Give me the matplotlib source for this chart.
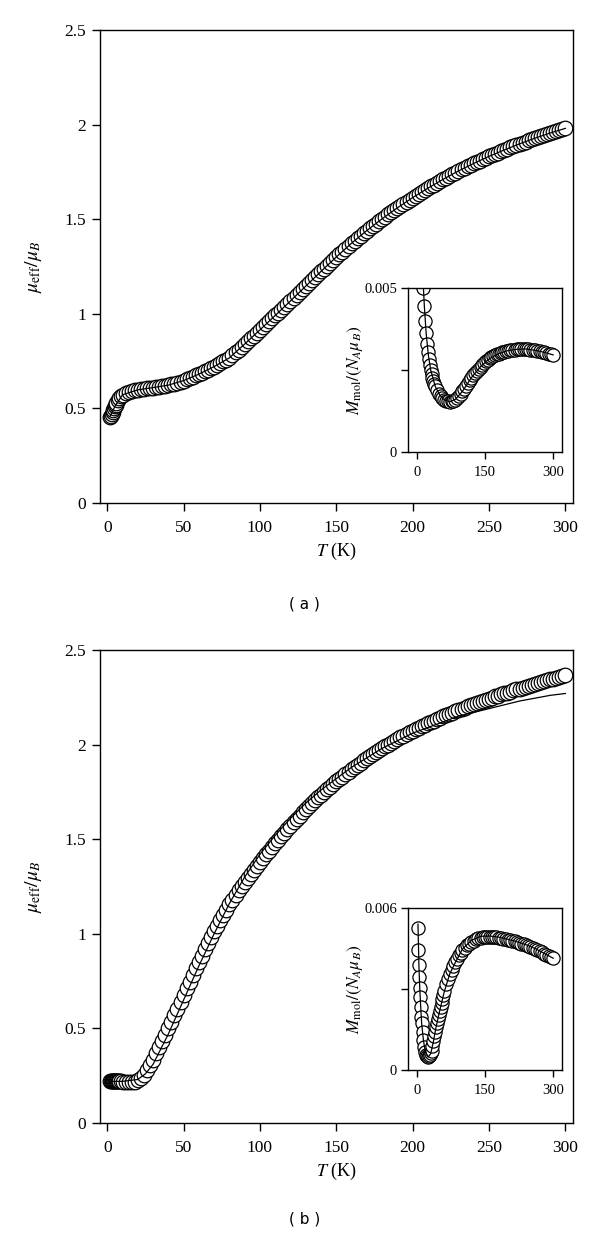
import matplotlib
matplotlib.use("Agg")
import matplotlib.pyplot as plt

plt.rcParams['font.family'] = ['Liberation Serif', 'DejaVu Serif']
plt.rcParams['mathtext.fontset'] = 'stix'

# ---- panel (a): mu_eff / mu_B vs T ----
T_a = [2, 2.5, 3, 3.5, 4, 4.5, 5, 5.5, 6, 7, 8, 9, 10,
       12, 14, 16, 18, 20, 22, 24, 26, 28, 30, 32, 34, 36, 38, 40, 42, 44, 46, 48, 50,
       52, 54, 56, 58, 60, 62, 64, 66, 68, 70, 72, 74, 76, 78, 80, 82, 84, 86, 88, 90,
       92, 94, 96, 98, 100, 102, 104, 106, 108, 110, 112, 114, 116, 118, 120, 122, 124, 126, 128, 130,
       132, 134, 136, 138, 140, 142, 144, 146, 148, 150, 152, 154, 156, 158, 160, 162, 164, 166, 168, 170,
       172, 174, 176, 178, 180, 182, 184, 186, 188, 190, 192, 194, 196, 198, 200, 202, 204, 206, 208, 210,
       212, 214, 216, 218, 220, 222, 224, 226, 228, 230, 232, 234, 236, 238, 240, 242, 244, 246, 248, 250,
       252, 254, 256, 258, 260, 262, 264, 266, 268, 270, 272, 274, 276, 278, 280, 282, 284, 286, 288, 290,
       292, 294, 296, 298, 300]
mu_a = [0.455, 0.462, 0.47, 0.48, 0.49, 0.50, 0.51, 0.52, 0.53, 0.545, 0.556, 0.565, 0.572,
        0.580, 0.586, 0.591, 0.595, 0.598, 0.601, 0.604, 0.606, 0.608, 0.610, 0.612, 0.614, 0.617, 0.620, 0.623, 0.627, 0.631, 0.636, 0.641, 0.647,
        0.653, 0.660, 0.667, 0.674, 0.681, 0.688, 0.696, 0.704, 0.712, 0.721, 0.730, 0.739, 0.748, 0.757, 0.767, 0.781, 0.796, 0.810, 0.825, 0.840,
        0.855, 0.870, 0.885, 0.900, 0.915, 0.930, 0.945, 0.961, 0.976, 0.991, 1.006, 1.022, 1.037, 1.053, 1.068, 1.084, 1.099, 1.115, 1.130, 1.146,
        1.162, 1.177, 1.193, 1.208, 1.224, 1.239, 1.254, 1.270, 1.285, 1.300, 1.315, 1.329, 1.344, 1.358, 1.373, 1.386, 1.400, 1.413, 1.427, 1.440,
        1.452, 1.465, 1.477, 1.490, 1.502, 1.514, 1.525, 1.537, 1.548, 1.560, 1.571, 1.582, 1.592, 1.603, 1.614, 1.624, 1.634, 1.644, 1.654, 1.664,
        1.673, 1.683, 1.692, 1.702, 1.711, 1.720, 1.729, 1.737, 1.746, 1.755, 1.763, 1.771, 1.779, 1.787, 1.795, 1.802, 1.810, 1.817, 1.825, 1.832,
        1.839, 1.846, 1.852, 1.859, 1.866, 1.872, 1.879, 1.885, 1.892, 1.898, 1.904, 1.910, 1.916, 1.922, 1.928, 1.933, 1.939, 1.944, 1.950, 1.955,
        1.960, 1.965, 1.970, 1.975, 1.980]
fitT_a = [2, 5, 10, 20, 30, 40, 50, 60, 70, 80, 90, 100, 110, 120, 130, 140, 150, 160, 170, 180,
          190, 200, 210, 220, 230, 240, 250, 260, 270, 280, 290, 300]
fit_a = [0.46, 0.51, 0.572, 0.598, 0.610, 0.623, 0.647, 0.681, 0.721, 0.767, 0.840, 0.915, 0.991, 1.068, 1.146, 1.224, 1.300, 1.373, 1.440, 1.502,
         1.560, 1.614, 1.664, 1.711, 1.755, 1.795, 1.832, 1.866, 1.898, 1.928, 1.955, 1.980]

# inset (a): M_mol/(N_A mu_B) vs T
Ti_a = [14, 16, 18, 20, 22, 24, 26, 28, 30, 32, 34, 36, 38, 40, 44, 48, 52, 56, 60, 64, 68, 72, 76, 80, 84, 88, 92, 96, 100,
        104, 108, 112, 116, 120, 124, 128, 132, 136, 140, 144, 148, 152, 156, 160, 164, 168, 172, 176, 180, 184, 188, 192, 196, 200,
        205, 210, 215, 220, 225, 230, 235, 240, 245, 250, 255, 260, 265, 270, 275, 280, 285, 290, 295, 300]
M_a = [0.00500, 0.00446, 0.00400, 0.00362, 0.00330, 0.00305, 0.00283, 0.00265, 0.00250, 0.00237, 0.00226, 0.00216, 0.00207, 0.00200,
       0.00188, 0.00178, 0.00170, 0.00164, 0.00159, 0.00156, 0.00154, 0.00153, 0.00154, 0.00156, 0.00160, 0.00165, 0.00170, 0.00177, 0.00185,
       0.00193, 0.00201, 0.00210, 0.00219, 0.00227, 0.00234, 0.00241, 0.00248, 0.00254, 0.00260, 0.00266, 0.00271, 0.00276, 0.00280, 0.00285,
       0.00289, 0.00292, 0.00295, 0.00298, 0.00300, 0.00302, 0.00304, 0.00306, 0.00308, 0.00309, 0.00310, 0.00311, 0.00312, 0.00313, 0.00313,
       0.00314, 0.00314, 0.00314, 0.00313, 0.00312, 0.00311, 0.00310, 0.00309, 0.00308, 0.00306, 0.00304, 0.00302, 0.00300, 0.00298, 0.00296]
fitTi_a = [12, 14, 16, 20, 25, 30, 40, 50, 60, 72, 85, 100, 120, 140, 160, 180, 200, 220, 240, 260, 280, 300]
fitM_a = [0.0056, 0.0050, 0.00446, 0.00362, 0.00294, 0.0025, 0.0020, 0.00174, 0.00159, 0.00153, 0.00161, 0.00185, 0.00227, 0.0026, 0.00285,
          0.0030, 0.00309, 0.00313, 0.00314, 0.0031, 0.00304, 0.00296]

# ---- panel (b) ----
T_b = [2, 2.5, 3, 3.5, 4, 4.5, 5, 5.5, 6, 6.5, 7, 7.5, 8, 9, 10,
       12, 14, 16, 18, 20, 22, 24, 26, 28, 30, 32, 34, 36, 38, 40, 42, 44, 46, 48, 50,
       52, 54, 56, 58, 60, 62, 64, 66, 68, 70, 72, 74, 76, 78, 80, 82, 84, 86, 88, 90,
       92, 94, 96, 98, 100, 102, 104, 106, 108, 110, 112, 114, 116, 118, 120, 122, 124, 126, 128, 130,
       132, 134, 136, 138, 140, 142, 144, 146, 148, 150, 152, 154, 156, 158, 160, 162, 164, 166, 168, 170,
       172, 174, 176, 178, 180, 182, 184, 186, 188, 190, 192, 194, 196, 198, 200, 202, 204, 206, 208, 210,
       212, 214, 216, 218, 220, 222, 224, 226, 228, 230, 232, 234, 236, 238, 240, 242, 244, 246, 248, 250,
       252, 254, 256, 258, 260, 262, 264, 266, 268, 270, 272, 274, 276, 278, 280, 282, 284, 286, 288, 290,
       292, 294, 296, 298, 300]
mu_b = [0.22, 0.22, 0.22, 0.221, 0.221, 0.222, 0.222, 0.222, 0.222, 0.222, 0.222, 0.221, 0.221, 0.22, 0.218,
        0.216, 0.215, 0.215, 0.218, 0.225, 0.238, 0.255, 0.278, 0.305, 0.335, 0.368, 0.400, 0.433, 0.467, 0.500, 0.535, 0.570, 0.605, 0.640, 0.676,
        0.711, 0.747, 0.782, 0.817, 0.851, 0.885, 0.918, 0.950, 0.982, 1.013, 1.043, 1.072, 1.101, 1.128, 1.155, 1.180, 1.205, 1.229, 1.252, 1.275,
        1.297, 1.318, 1.339, 1.360, 1.380, 1.400, 1.420, 1.440, 1.459, 1.478, 1.497, 1.516, 1.534, 1.553, 1.571, 1.589, 1.607, 1.624, 1.641, 1.658,
        1.674, 1.690, 1.705, 1.721, 1.736, 1.750, 1.764, 1.778, 1.791, 1.805, 1.818, 1.831, 1.844, 1.856, 1.869, 1.881, 1.893, 1.905, 1.916, 1.928,
        1.939, 1.949, 1.960, 1.970, 1.981, 1.991, 2.000, 2.010, 2.019, 2.029, 2.038, 2.047, 2.055, 2.064, 2.073, 2.081, 2.089, 2.096, 2.104, 2.112,
        2.119, 2.127, 2.134, 2.142, 2.149, 2.156, 2.163, 2.169, 2.176, 2.183, 2.189, 2.195, 2.202, 2.208, 2.214, 2.220, 2.226, 2.231, 2.237, 2.243,
        2.248, 2.254, 2.259, 2.265, 2.270, 2.275, 2.280, 2.286, 2.291, 2.296, 2.301, 2.306, 2.310, 2.315, 2.320, 2.325, 2.330, 2.334, 2.339, 2.344,
        2.349, 2.353, 2.358, 2.362, 2.367]
fitT_b = [2, 10, 20, 25, 30, 40, 50, 60, 70, 80, 90, 100, 110, 120, 130, 140, 150, 160, 170, 180,
          190, 200, 210, 220, 230, 240, 250, 260, 270, 280, 290, 300]
fit_b = [0.22, 0.22, 0.23, 0.26, 0.31, 0.47, 0.65, 0.83, 1.00, 1.16, 1.30, 1.42, 1.52, 1.61, 1.69, 1.76, 1.82, 1.88, 1.93, 1.98,
         2.02, 2.06, 2.09, 2.12, 2.15, 2.17, 2.19, 2.21, 2.23, 2.245, 2.26, 2.27]

Ti_b = [2, 3, 4, 5, 6, 7, 8, 9, 10, 12, 14, 16, 18, 20, 22, 24, 26, 28, 30, 32, 34, 36, 38, 40, 42, 44, 46, 48, 50,
        52, 54, 56, 58, 60, 64, 68, 72, 76, 80, 84, 88, 92, 96, 100, 105, 110, 115, 120, 125, 130, 135, 140, 145, 150,
        155, 160, 165, 170, 175, 180, 185, 190, 195, 200, 205, 210, 215, 220, 225, 230, 235, 240, 245, 250,
        255, 260, 265, 270, 275, 280, 285, 290, 295, 300]
M_b = [0.00526, 0.00445, 0.00390, 0.00346, 0.00303, 0.00272, 0.00235, 0.00198, 0.00175, 0.00140, 0.00110, 0.00085, 0.00068, 0.00057,
       0.00050, 0.00048, 0.00050, 0.00055, 0.00062, 0.00072, 0.00088, 0.00108, 0.00125, 0.00142, 0.00158, 0.00173, 0.00189, 0.00204, 0.00219,
       0.00234, 0.00249, 0.00264, 0.00278, 0.00292, 0.00317, 0.00337, 0.00354, 0.00369, 0.00385, 0.00399, 0.00412, 0.00424, 0.00435, 0.00444,
       0.00453, 0.00461, 0.00468, 0.00474, 0.00479, 0.00484, 0.00487, 0.00489, 0.00491, 0.00492, 0.00493, 0.00493, 0.00493, 0.00492, 0.00491,
       0.00490, 0.00488, 0.00486, 0.00484, 0.00482, 0.00480, 0.00478, 0.00476, 0.00473, 0.00471, 0.00468, 0.00466, 0.00463, 0.00460, 0.00457,
       0.00453, 0.00449, 0.00445, 0.00441, 0.00436, 0.00431, 0.00426, 0.00421, 0.00417, 0.00413]
fitTi_b = [2, 4, 6, 8, 10, 14, 18, 24, 30, 36, 42, 50, 60, 72, 85, 100, 120, 140, 160, 180, 200, 220, 240, 260, 280, 300]
fitM_b = [0.0054, 0.0039, 0.0030, 0.00235, 0.00175, 0.0011, 0.0007, 0.00048, 0.0006, 0.00105, 0.0016, 0.0022, 0.0029, 0.00356, 0.0040,
          0.00448, 0.00480, 0.00495, 0.00496, 0.00492, 0.00484, 0.00475, 0.00464, 0.00450, 0.00432, 0.00414]


def style_axis(ax, fs, ticklen, xpad, ypad):
    for s in ax.spines.values():
        s.set_linewidth(1.0)
    ax.tick_params(direction='out', length=ticklen, width=1.0, labelsize=fs,
                   top=False, right=False)
    ax.tick_params(axis='x', pad=xpad)
    ax.tick_params(axis='y', pad=ypad)


def draw_main(ax, T, mu, fT, fmu):
    ax.plot(T, mu, linestyle='none', marker='o', markersize=10.5,
            markerfacecolor='white', markeredgecolor='black', markeredgewidth=0.9)
    ax.plot(fT, fmu, color='black', lw=0.9)
    ax.set_xlim(-5, 305)
    ax.set_ylim(0, 2.5)
    ax.set_xticks([0, 50, 100, 150, 200, 250, 300])
    ax.set_yticks([0, 0.5, 1, 1.5, 2, 2.5])
    ax.set_yticklabels(['0', '0.5', '1', '1.5', '2', '2.5'])
    style_axis(ax, 12.5, 6, 6, 4)
    ax.set_ylabel(r'$\mu_{\rm eff}/\mu_B$', fontsize=14)
    ax.yaxis.set_label_coords(-0.118, 0.5)
    ax.set_xlabel(r'$T$ (K)', fontsize=13)
    ax.xaxis.set_label_coords(0.5, -0.08)


def draw_inset(ax, T, M, fT, fM, ymax):
    ax.plot(T, M, linestyle='none', marker='o', markersize=9.5,
            markerfacecolor='white', markeredgecolor='black', markeredgewidth=0.9)
    ax.plot(fT, fM, color='black', lw=0.9)
    ax.set_xlim(-20, 320)
    ax.set_ylim(0, ymax)
    ax.set_xticks([0, 150, 300])
    ax.set_yticks([0, ymax / 2, ymax])
    ax.set_yticklabels(['0', '', f'{ymax:g}'])
    style_axis(ax, 10.5, 5, 5, 3)
    ax.set_ylabel(r'$M_{\rm mol}/(N_A\mu_B)$', fontsize=12.5)
    ax.yaxis.set_label_coords(-0.28, 0.5)


fig = plt.figure(figsize=(6.0, 12.38), dpi=100)

ax_a = fig.add_axes([0.166, 0.5937, 0.789, 0.3821])
draw_main(ax_a, T_a, mu_a, fitT_a, fit_a)
ins_a = fig.add_axes([0.68, 0.6349, 0.257, 0.1325])
draw_inset(ins_a, Ti_a, M_a, fitTi_a, fitM_a, 0.005)

ax_b = fig.add_axes([0.166, 0.0929, 0.789, 0.3821])
draw_main(ax_b, T_b, mu_b, fitT_b, fit_b)
ins_b = fig.add_axes([0.68, 0.1357, 0.257, 0.1309])
draw_inset(ins_b, Ti_b, M_b, fitTi_b, fitM_b, 0.006)

fig.text(0.508, 1 - 604 / 1238, '( a )', ha='center', va='center', fontsize=11, family='DejaVu Sans')
fig.text(0.508, 1 - 1219 / 1238, '( b )', ha='center', va='center', fontsize=11, family='DejaVu Sans')

fig.savefig('out.png', dpi=100)
